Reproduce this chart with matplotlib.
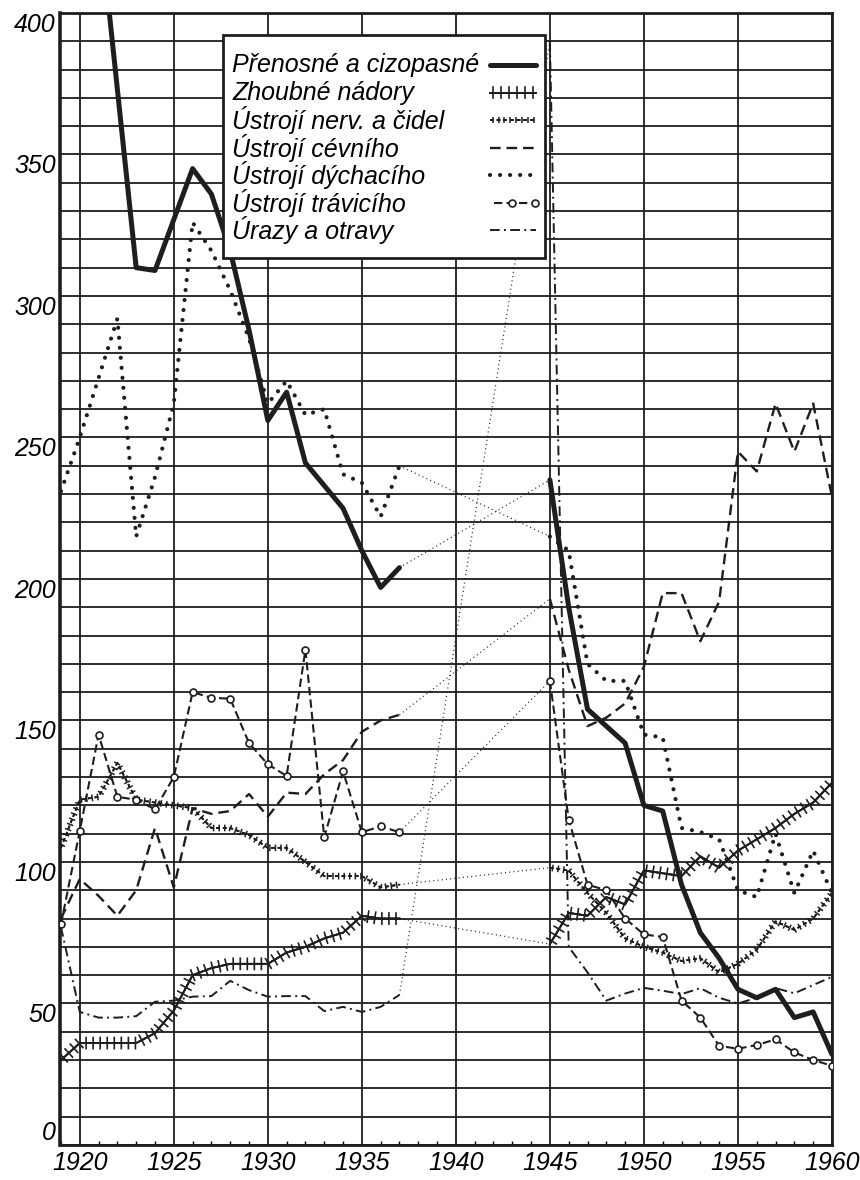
import numpy as np
import matplotlib
matplotlib.use('Agg')
import matplotlib.pyplot as plt
from matplotlib import patheffects as pe
from matplotlib.lines import Line2D
from matplotlib.patches import Rectangle

plt.rcParams['font.family'] = ['Liberation Sans', 'DejaVu Sans']
plt.rcParams['font.style'] = 'italic'

nan = np.nan
years_pre = list(range(1919, 1938))
years_post = list(range(1945, 1961))

# Přenosné a cizopasné
prenosne_pre = [nan, nan, 436, 373, 310, 309, 327, 345, 336, 316, 288, 256, 266, 241, 233, 225, 210, 197, 204]
prenosne_post = [235, 190, 154, 148, 142, 120, 118, 92, 75, 66, 55, 52, 55, 45, 47, 32]
# Zhoubné nádory
zhoubne_pre = [30, 36, 36, 36, 36, 39.5, 47.5, 60, 62.5, 64, 64, 64, 68, 70, 73, 75, 81, 80, 80]
zhoubne_post = [71, 82, 81, 87.6, 85, 97, 96, 95, 102, 98, 104, 108, 112, 117, 121, 128]
# Ústrojí nerv. a čidel
nerv_pre = [105, 122, 123, 135, 122, 121, 120, 119, 112, 112, 109.5, 105, 105, 100, 95, 95, 95, 91, 92]
nerv_post = [98, 97, 89, 82, 73, 70, 68, 65, 66, 61, 64, 69, 79, 76, 80, 89]
# Ústrojí cévního
cevni_pre = [80, 94, 88, 81, 90, 112, 91, 119, 117, 118, 124, 116, 124.5, 124, 131, 136, 146, 150, 152]
cevni_post = [193, 168, 148, 151, 156, 169, 195, 195, 178, 192, 245, 238, 262, 245, 262, 229]
# Ústrojí dýchacího
dychaci_pre = [231, 250, 271, 292, 215, 236, 262, 326, 316, 302, 285, 262, 270, 258, 260, 237, 234, 222, 240]
dychaci_post = [215, 210, 170, 164, 164, 145, 144, 112, 110.6, 108, 90, 87.6, 110, 89, 104, 89]
# Ústrojí trávicího
travici_pre = [78, 111, 145, 123, 122, 118.6, 130, 160, 158, 157.7, 142, 134.5, 130.4, 175, 108.7, 132, 110.5, 112.6, 110.5]
travici_post = [164, 115, 92, 90, 80, 74.4, 73.5, 51, 45, 35, 34, 35.3, 37.3, 32.7, 30, 28]
# Úrazy a otravy
urazy_pre = [77, 47, 45, 45, 45.5, 50.6, 51, 52.4, 52.6, 58, 54.7, 52.4, 52.6, 52.6, 47.3, 48.8, 47, 48.8, 53]
urazy_post = [390, 70, 61, 51, 53.5, 55.5, 54.5, 53.3, 55.4, 52, 50, 52, 55.4, 53.6, 56.5, 59.4]

labels = ['Přenosné a cizopasné', 'Zhoubné nádory', 'Ústrojí nerv. a čidel',
          'Ústrojí cévního', 'Ústrojí dýchacího', 'Ústrojí trávicího', 'Úrazy a otravy']

ink = '#1e1e1e'
tick_pe = lambda sp, ln, lw: [pe.Normal(),
                              pe.withTickedStroke(spacing=sp, angle=90, length=ln, linewidth=lw, foreground=ink),
                              pe.withTickedStroke(spacing=sp, angle=-90, length=ln, linewidth=lw, foreground=ink)]

styles = [
    dict(color=ink, lw=3.6, solid_capstyle='round', solid_joinstyle='round', zorder=6),
    dict(color=ink, lw=1.3, path_effects=tick_pe(5, 0.8, 1.2), zorder=4),
    dict(color=ink, lw=1.2, ls=(0, (2.2, 1.8)), path_effects=tick_pe(4.0, 0.6, 1.1), zorder=4),
    dict(color=ink, lw=1.7, ls=(0, (4.5, 2.5)), zorder=4),
    dict(color=ink, lw=3.0, ls=(0, (0.01, 2.4)), dash_capstyle='round', zorder=5),
    dict(color=ink, lw=1.5, ls=(0, (4, 2)), marker='o', ms=5, mfc='white', mec=ink, mew=1.2, zorder=4),
    dict(color=ink, lw=1.4, ls=(0, (5, 2.2, 1, 2.2)), zorder=4),
]
series = [(prenosne_pre, prenosne_post), (zhoubne_pre, zhoubne_post), (nerv_pre, nerv_post),
          (cevni_pre, cevni_post), (dychaci_pre, dychaci_post), (travici_pre, travici_post),
          (urazy_pre, urazy_post)]

fig = plt.figure(figsize=(8.6, 11.8), dpi=100)
ax = fig.add_axes([0.0698, 0.0297, 0.8976, 0.9593])

for (pre, post), st in zip(series, styles):
    ax.plot(years_pre, pre, **st)
    ax.plot(years_post, post, **st)
    # thin dotted connection over the war years
    ax.plot([years_pre[-1], years_post[0]], [pre[-1], post[0]], color=ink, lw=0.9,
            ls=(0, (0.8, 2.6)), zorder=3)

ax.set_xlim(1918.95, 1960)
ax.set_ylim(0, 400)
ax.set_xticks(range(1920, 1961, 5))
ax.set_xticks(range(1919, 1961), minor=True)
ax.set_yticks(range(0, 401, 50))
ax.set_yticks(range(0, 401, 10), minor=True)
ax.grid(which='both', axis='y', color=ink, lw=1.3, zorder=1)
ax.grid(which='major', axis='x', color=ink, lw=1.3, zorder=1)
ax.tick_params(axis='y', which='both', length=0, pad=3, labelsize=18)
ax.tick_params(axis='x', which='major', length=0, pad=4, labelsize=18)
ax.tick_params(axis='x', which='minor', length=3, direction='in', width=1)
for lab in ax.get_yticklabels():
    lab.set_va('top')
ax.get_yticklabels()[0].set_va('bottom')
for sp in ax.spines.values():
    sp.set_linewidth(2)
    sp.set_color(ink)
ax.spines['left'].set_linewidth(2.6)

# legend box
ax.add_patch(Rectangle((0.211, 0.7836), 0.417, 0.197, transform=ax.transAxes,
                       facecolor='white', edgecolor=ink, lw=2, zorder=10))
row_top, row_step = 0.954, 0.0243
for i, (lab, st) in enumerate(zip(labels, styles)):
    yy = row_top - i * row_step
    ax.text(0.2228, yy, lab, transform=ax.transAxes, fontsize=18, va='center', ha='left',
            zorder=11)
    s = dict(st)
    s['zorder'] = 11
    if 'marker' in s:
        ax.add_line(Line2D([0.562, 0.585, 0.615], [yy, yy, yy], transform=ax.transAxes,
                           clip_on=False, markevery=[1, 2], **s))
    else:
        ax.add_line(Line2D([0.557, 0.617], [yy, yy], transform=ax.transAxes, clip_on=False, **s))

fig.savefig('out.png', dpi=100)
